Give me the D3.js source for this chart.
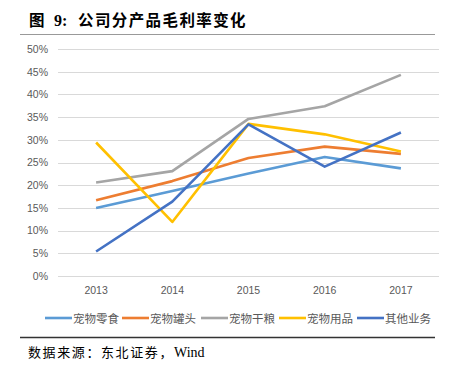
<!DOCTYPE html>
<html><head><meta charset="utf-8">
<script src="https://cdn.jsdelivr.net/npm/d3@7"></script>
<style>body{margin:0;background:#fff}svg{display:block}</style>
</head><body>
<script>
const years = ["2013","2014","2015","2016","2017"];
const seriesNames = ["宠物零食","宠物罐头","宠物干粮","宠物用品","其他业务"];
const snack = [15.0, 18.7, 22.6, 26.2, 23.7];
const canned = [16.7, 20.9, 26.0, 28.5, 26.9];
const dryFood = [20.6, 23.1, 34.6, 37.4, 44.3];
const supplies = [29.4, 11.9, 33.5, 31.2, 27.4];
const other = [5.4, 16.4, 33.4, 24.1, 31.6];
const yTicks = [0,5,10,15,20,25,30,35,40,45,50];
const colors = ["#5B9BD5","#ED7D31","#A5A5A5","#FFC000","#4472C4"];
const allSeries = [snack, canned, dryFood, supplies, other];

(function(){
const W = 453, H = 368;
const svg = d3.select("body").append("svg").attr("width", W).attr("height", H);

// title
const t = svg.append("text").attr("y", 26)
  .attr("font-family", "Noto Sans CJK SC").attr("font-weight", "bold")
  .attr("font-size", 15.5).attr("fill", "#000");
t.append("tspan").attr("x", 29).text("图");
t.append("tspan").attr("x", 54).attr("font-family", "Liberation Serif, serif").attr("font-size", 16).text("9:");
t.append("tspan").attr("x", 78).attr("letter-spacing", 1.4).text("公司分产品毛利率变化");
svg.append("line").attr("x1", 20).attr("x2", 435).attr("y1", 34.5).attr("y2", 34.5)
  .attr("stroke", "#999").attr("stroke-width", 1.2);

const pL = 58, pR = 439, pT = 49, pB = 276;
const x = d3.scaleBand().domain(years).range([pL, pR]);
const y = d3.scaleLinear().domain([0, 50]).range([pB, pT]);

// gridlines
svg.append("g").selectAll("line").data(yTicks).join("line")
  .attr("x1", pL).attr("x2", pR)
  .attr("y1", d => Math.round(y(d)) + 0.5).attr("y2", d => Math.round(y(d)) + 0.5)
  .attr("stroke", "#d9d9d9").attr("stroke-width", 1);

// y axis
const yAxis = svg.append("g").attr("transform", `translate(${pL},0)`)
  .call(d3.axisLeft(y).tickValues(yTicks).tickFormat(d => d + "%").tickSize(0).tickPadding(10));
yAxis.select(".domain").remove();
yAxis.selectAll("text").attr("font-family", "Liberation Sans, Arial, sans-serif")
  .attr("font-size", 10.5).attr("fill", "#595959");

// x axis
const xAxis = svg.append("g").attr("transform", `translate(0,${pB})`)
  .call(d3.axisBottom(x).tickSize(0).tickPadding(11));
xAxis.select(".domain").remove();
xAxis.selectAll("text").attr("font-family", "Liberation Sans, Arial, sans-serif")
  .attr("font-size", 10.5).attr("fill", "#595959");

const line = d3.line().x((d, i) => x(years[i]) + x.bandwidth() / 2).y(d => y(d));
svg.append("g").selectAll("path").data(allSeries).join("path")
  .attr("d", d => line(d)).attr("fill", "none")
  .attr("stroke", (d, i) => colors[i]).attr("stroke-width", 2.6)
  .attr("stroke-linejoin", "round");

// legend
const legX = [45, 122, 201, 279, 357];
const leg = svg.append("g").selectAll("g").data(seriesNames).join("g")
  .attr("transform", (d, i) => `translate(${legX[i]},318)`);
leg.append("line").attr("x1", 0).attr("x2", 27).attr("y1", 0).attr("y2", 0)
  .attr("stroke", (d, i) => colors[i]).attr("stroke-width", 2.6);
leg.append("text").attr("x", 28).attr("y", 4.5)
  .attr("font-family", "Noto Sans CJK SC").attr("font-size", 11.5).attr("fill", "#595959")
  .text(d => d);

// source
svg.append("line").attr("x1", 20).attr("x2", 435).attr("y1", 337.5).attr("y2", 337.5)
  .attr("stroke", "#333").attr("stroke-width", 1.5);
const s = svg.append("text").attr("y", 357)
  .attr("font-family", "Noto Sans CJK SC").attr("font-size", 13).attr("fill", "#000");
s.append("tspan").attr("x", 28).attr("letter-spacing", 1.6).text("数据来源：东北证券，");
s.append("tspan").attr("font-family", "Liberation Serif, serif").attr("font-size", 14).text("Wind");
})();
</script>
</body></html>
